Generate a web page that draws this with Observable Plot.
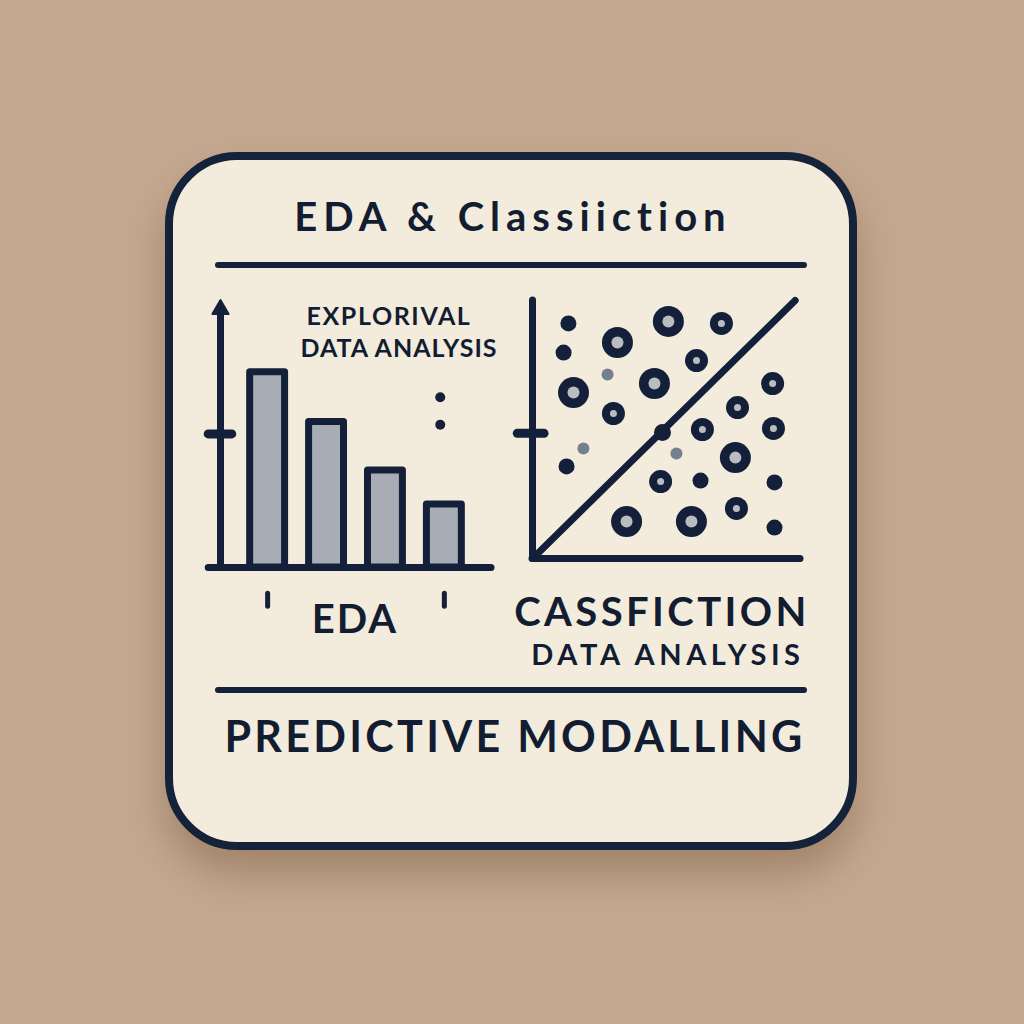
<!DOCTYPE html>
<html>
<head>
<meta charset="utf-8">
<script src="https://cdn.jsdelivr.net/npm/d3@7"></script>
<script src="https://cdn.jsdelivr.net/npm/@observablehq/plot@0.6"></script>
<style>
  html, body { margin: 0; padding: 0; }
  body { width: 1024px; height: 1024px; background: #c4a88f; position: relative; overflow: hidden;
         font-family: Lato, "Noto Sans", sans-serif; color: #121d31; }
  .card { position: absolute; left: 165px; top: 152px; width: 692px; height: 698px; box-sizing: border-box;
          border: 8px solid #14223a; border-radius: 72px; background: #f3ecdd;
          box-shadow: 0 24px 38px rgba(95, 65, 40, 0.34); }
  .rule { position: absolute; left: 215px; width: 592px; height: 6px; border-radius: 3px; background: #14223a; }
  .lbl { position: absolute; width: 600px; text-align: center; line-height: 0.76; white-space: nowrap; font-weight: 700; }
  .chart { position: absolute; }
</style>
</head>
<body>
<div class="card"></div>
<div class="rule" style="top:262px"></div>
<div class="rule" style="top:687px"></div>

<div class="lbl" style="left:213px; top:201px; font-size:40px; letter-spacing:6px">EDA &amp; Classiiction</div>
<div class="lbl" style="left:89px; top:306px; font-size:25px; letter-spacing:1.6px">EXPLORIVAL</div>
<div class="lbl" style="left:99px; top:338px; font-size:25px; letter-spacing:1px">DATA ANALYSIS</div>
<div class="lbl" style="left:55px; top:603px; font-size:40px; letter-spacing:2px">EDA</div>
<div class="lbl" style="left:362px; top:596px; font-size:40px; letter-spacing:3.4px">CASSFICTION</div>
<div class="lbl" style="left:368px; top:643px; font-size:29px; letter-spacing:4.6px">DATA ANALYSIS</div>
<div class="lbl" style="left:215px; top:720px; font-size:43px; letter-spacing:3.3px">PREDICTIVE MODALLING</div>

<div id="bars" class="chart" style="left:200px; top:290px"></div>
<div id="scatter" class="chart" style="left:510px; top:285px"></div>

<script>
const ink = '#14203a'

// EDA bar chart
const barSlots = [0.8, 1.8, 2.8, 3.8]
const barValues = [7.45, 5.55, 3.7, 2.4]
const edaDotX = [3.73, 3.73]
const edaDotY = [6.5, 5.45]
const edaTickSlots = [0.8, 3.8]

// Classification scatter
const ptX = [1.34, 1.16, 3.17, 5.07, 7.05, 6.12, 2.80, 1.53, 4.55, 3.02, 8.96, 7.65, 6.34,
             8.99, 1.90, 1.27, 5.37, 7.57, 4.78, 6.27, 9.03, 3.51, 5.93, 7.61, 9.03]
const ptY = [9.11, 7.98, 8.37, 9.19, 9.11, 7.67, 7.13, 6.43, 6.78, 5.62, 6.78, 5.85, 5.00,
             5.04, 4.26, 3.57, 4.07, 3.91, 2.98, 3.02, 2.95, 1.43, 1.43, 1.94, 1.20]
const ptKind = ['solid', 'solid', 'big', 'big', 'small', 'small', 'faint', 'big', 'big', 'small', 'small', 'small', 'small',
                'small', 'faint', 'solid', 'faint', 'big', 'small', 'solid', 'solid', 'big', 'big', 'small', 'solid']
const diagX = [0.1, 9.8]
const diagY = [0.1, 10]
const nodeX = [4.85]
const nodeY = [4.88]

const bars = barSlots.map((s, i) => ({slot: s, value: barValues[i]}))
const edaDots = edaDotX.map((x, i) => ({x, y: edaDotY[i]}))
const points = ptX.map((x, i) => ({x, y: ptY[i], kind: ptKind[i]}))
const diag = diagX.map((x, i) => ({x, y: diagY[i]}))

const outerR = {big: 15.5, small: 11.5, solid: 8, faint: 6}
const innerR = {big: 6, small: 3.5}

/* barras */
const barChart = Plot.plot({
  width: 300,
  height: 320,
  marginLeft: 20,
  marginRight: 9,
  marginTop: 15,
  marginBottom: 43,
  style: {background: 'transparent', overflow: 'visible'},
  x: {domain: [0, 4.6], axis: null},
  y: {domain: [0, 10], axis: null},
  marks: [
    Plot.rectY(bars, {
      x1: d => d.slot - 0.5, x2: d => d.slot + 0.5, y: 'value',
      insetLeft: 12, insetRight: 12,
      fill: '#a8adb5', stroke: ink, strokeWidth: 7, strokeLinejoin: 'round'
    }),
    Plot.ruleX([0], {y1: 0, y2: 9.85, stroke: ink, strokeWidth: 7, strokeLinecap: 'round'}),
    Plot.ruleY([0], {x1: -0.2, x2: 4.6, stroke: ink, strokeWidth: 7, strokeLinecap: 'round'}),
    Plot.ruleY([5.1], {x1: -0.2, x2: 0.2, stroke: ink, strokeWidth: 9, strokeLinecap: 'round'}),
    Plot.dot([9.85], {x: 0, y: d => d, symbol: 'triangle', r: 6, fill: ink, stroke: ink, strokeWidth: 2, strokeLinejoin: 'round'}),
    Plot.dot(edaDots, {x: 'x', y: 'y', r: 5, fill: ink}),
    Plot.ruleX(edaTickSlots, {y1: -1, y2: -1.5, stroke: ink, strokeWidth: 5, strokeLinecap: 'round'})
  ]
})
d3.select('#bars').append(() => barChart)

/* scatter */
const scatterChart = Plot.plot({
  width: 300,
  height: 290,
  marginLeft: 22,
  marginRight: 10,
  marginTop: 15,
  marginBottom: 17,
  style: {background: 'transparent', overflow: 'visible'},
  x: {domain: [0, 10], axis: null},
  y: {domain: [0, 10], axis: null},
  r: {type: 'identity'},
  marks: [
    Plot.ruleX([0], {y1: 0, y2: 10, stroke: ink, strokeWidth: 7, strokeLinecap: 'round'}),
    Plot.ruleY([0], {x1: 0, x2: 10, stroke: ink, strokeWidth: 7, strokeLinecap: 'round'}),
    Plot.ruleY([4.85], {x1: -0.55, x2: 0.45, stroke: ink, strokeWidth: 9, strokeLinecap: 'round'}),
    Plot.line(diag, {x: 'x', y: 'y', stroke: ink, strokeWidth: 7, strokeLinecap: 'round'}),
    Plot.dot({length: 1}, {x: nodeX, y: nodeY, r: 8.5, fill: ink}),
    Plot.dot(points, {
      x: 'x', y: 'y', r: d => outerR[d.kind],
      fill: d => d.kind === 'faint' ? '#56647b' : ink,
      fillOpacity: d => d.kind === 'faint' ? 0.8 : 1
    }),
    Plot.dot(points.filter(d => innerR[d.kind]), {
      x: 'x', y: 'y', r: d => innerR[d.kind], fill: '#b9bdc0'
    })
  ]
})
d3.select('#scatter').append(() => scatterChart)
</script>
</body>
</html>
